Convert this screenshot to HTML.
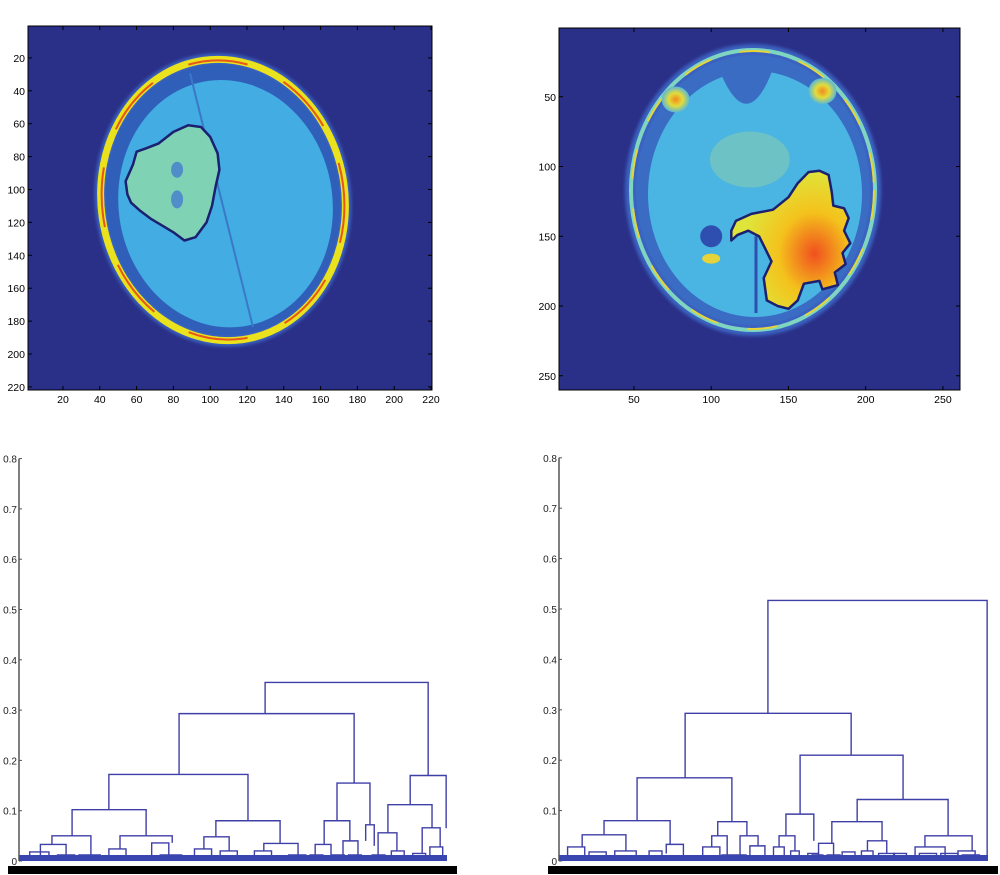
<!DOCTYPE html>
<html><head><meta charset="utf-8"><style>
html,body{margin:0;padding:0;background:#fff;}
svg{display:block;font-family:"Liberation Sans",sans-serif;}
</style></head><body>
<svg id="fig" width="1000" height="875" viewBox="0 0 1000 875" xmlns="http://www.w3.org/2000/svg">
<defs>
<radialGradient id="tumorR" cx="0.7" cy="0.6" r="0.6"><stop offset="0" stop-color="#f0501e"/><stop offset="0.5" stop-color="#f4c21c"/><stop offset="1" stop-color="#dfe43a"/></radialGradient>
<radialGradient id="eyeG" cx="0.5" cy="0.5" r="0.5"><stop offset="0" stop-color="#f08a20"/><stop offset="0.5" stop-color="#e2dc3a"/><stop offset="1" stop-color="#58b8d8"/></radialGradient>
<filter id="blur1"><feGaussianBlur stdDeviation="1.5"/></filter>
</defs>
<g id="mri-left"></g>
<g id="mri-right"></g>
<g id="dendro-left"></g>
<g id="dendro-right"></g>
</svg>
<script>
// ---------- data ----------
const leftXTicks = [20,40,60,80,100,120,140,160,180,200,220];
const leftYTicks = [20,40,60,80,100,120,140,160,180,200,220];
const rightXTicks = [50,100,150,200,250];
const rightYTicks = [50,100,150,200,250];
const dendroYTicks = [0,0.1,0.2,0.3,0.4,0.5,0.6,0.7,0.8];
const dendroTickLabels = ["0","0.1","0.2","0.3","0.4","0.5","0.6","0.7","0.8"];
// tumor outlines (image data coords)
const leftTumorX = [55,54,58,60,65,72,80,88,95,100,104,105,103,101,98,92,86,80,74,68,62,57];
const leftTumorY = [103,95,85,77,75,72,65,61,62,68,78,88,98,110,120,129,131,126,122,118,113,108];
const rightTumorX = [113,116,126,140,150,156,163,170,176,178,179,186,189,186,190,185,187,180,182,172,170,160,156,150,143,136,134,139,131,124,117,113];
const rightTumorY = [146,139,134,131,122,112,104,103,106,118,128,130,137,146,155,162,170,176,185,188,182,184,196,202,200,196,180,168,150,146,149,153];
// dendrogram links: [xLeft, xRight, height, leftChildHeight, rightChildHeight]  (x in leaf-order units 0..100)
const leftLinks = [
 [57.5,95.6,0.355,0.293,0.170],[37.4,78.3,0.293,0.172,0.155],[21.0,53.5,0.172,0.102,0.080],
 [12.4,29.7,0.102,0.050,0.050],[46.0,61.0,0.080,0.048,0.035],[74.3,82.0,0.155,0.080,0.072],
 [71.3,77.3,0.080,0.033,0.040],[91.4,99.8,0.170,0.112,0.065],[86.2,96.5,0.112,0.056,0.066],
 [7.7,16.8,0.050,0.033,0.010],[23.6,35.8,0.050,0.024,0.036],[43.2,49.1,0.048,0.024,0.020],
 [57.2,65.2,0.035,0.020,0.012],[69.2,72.9,0.033,0.012,0.012],[75.7,79.2,0.040,0.012,0.012],
 [83.9,88.3,0.056,0.012,0.020],[94.2,98.4,0.066,0.015,0.028],[81.0,83.0,0.072,0.040,0.030]
];
const leftSmall = [[2.5,7,0.018],[5,11,0.033],[9,13,0.012],[14,19,0.012],[21,25,0.024],[26,30,0.010],[31,35,0.036],[33,38,0.012],
 [41,45,0.024],[47,51,0.020],[55,59,0.020],[63,67,0.012],[68,71,0.012],[73,76,0.012],[77,80,0.012],[82.5,85.5,0.012],[87,90,0.020],[92,95,0.015],[96,99,0.028]];
const rightLinks = [
 [48.7,99.8,0.517,0.293,0.0],[29.4,68.1,0.293,0.165,0.210],[18.2,40.3,0.165,0.080,0.078],
 [10.5,25.9,0.080,0.052,0.033],[5.4,15.6,0.052,0.028,0.020],[37.0,43.8,0.078,0.050,0.050],
 [56.2,80.2,0.210,0.093,0.122],[52.9,59.4,0.093,0.050,0.040],[69.5,90.7,0.122,0.078,0.050],
 [63.6,75.3,0.078,0.035,0.040],[85.3,96.3,0.050,0.028,0.020],
 [35.6,39.2,0.050,0.028,0.012],[42.2,46.4,0.050,0.012,0.030],[51.3,55.0,0.050,0.028,0.020],
 [60.5,64.0,0.035,0.012,0.012],[71.9,76.4,0.040,0.020,0.015],[25.0,29.0,0.033,0.015,0.012]
];
const rightSmall = [[2,6,0.028],[1,3,0.010],[7,11,0.018],[13,18,0.020],[21,24,0.020],[33.5,37.5,0.028],[38,40.5,0.012],
 [40.8,43.6,0.012],[44.5,48,0.030],[50,52.5,0.028],[54,56,0.020],[58,60.5,0.015],[59,61.5,0.012],[62.5,65.5,0.012],
 [66,69,0.018],[70.5,73.2,0.020],[74.5,78.2,0.015],[78,81,0.015],[84,88,0.015],[83,90,0.028],[89,93,0.015],[93,97,0.020],[94,98,0.012]];

const NS='http://www.w3.org/2000/svg';
function mk(parent, tag, attrs){const e=document.createElementNS(NS,tag);for(const k in attrs)e.setAttribute(k,attrs[k]);parent.appendChild(e);return e;}

// ---------- MRI panels ----------
function mriPanel(gid, ax, xTicks, yTicks, tumX, tumY, kind){
  const g=document.getElementById(gid);
  const sx=v=>ax.x0+v*ax.kx, sy=v=>ax.y0+v*ax.ky;
  const bg=mk(g,'rect',{x:ax.l,y:ax.t,width:ax.r-ax.l,height:ax.b-ax.t,fill:'#2a2f87'});
  
  
  const head=mk(g,'g',{transform:`rotate(${ax.rot} ${ax.cx} ${ax.cy})`});
  
  
  mk(head,'ellipse',{cx:ax.cx,cy:ax.cy,rx:ax.rx+6,ry:ax.ry+6,fill:'#3a62c0',filter:'url(#blur1)'});
  mk(head,'ellipse',{cx:ax.cx,cy:ax.cy,rx:ax.rx,ry:ax.ry,fill:'none',stroke:kind==='L'?'#e9e21c':'#7fd6c0',"stroke-width":kind==='L'?7:4});
  mk(head,'ellipse',{cx:ax.cx,cy:ax.cy,rx:ax.rx-1,ry:ax.ry-1,fill:'none',stroke:kind==='L'?'#e8561c':'#e6d43a',"stroke-width":kind==='L'?2:2,"stroke-dasharray":kind==='L'?'60 40':'30 30'});
  mk(head,'ellipse',{cx:ax.cx,cy:ax.cy,rx:ax.rx-5,ry:ax.ry-5,fill:kind==='L'?'#2f5fb8':'#3a6cc4'});
  mk(head,'ellipse',{cx:ax.cx+2,cy:ax.cy+4,rx:ax.rx-15,ry:ax.ry-17,fill:kind==='L'?'#43ace2':'#4ab4e2'});
  if(kind==='L'){
    mk(head,'line',{x1:ax.cx-15,y1:ax.cy-130,x2:ax.cx+12,y2:ax.cy+130,stroke:'#3a78c8','stroke-width':2});
  } else {
    mk(g,'path',{d:`M${sx(105)} ${sy(30)}Q${sx(123)} ${sy(80)} ${sx(140)} ${sy(30)}Z`,fill:'#3a6cc4'});
    mk(g,'ellipse',{cx:sx(77),cy:sy(52),rx:14,ry:13,fill:'url(#eyeG)'});
    mk(g,'ellipse',{cx:sx(172),cy:sy(46),rx:14,ry:13,fill:'url(#eyeG)'});
    mk(g,'ellipse',{cx:sx(125),cy:sy(95),rx:40,ry:28,fill:'#8ecfa8',opacity:0.5});
    mk(g,'circle',{cx:sx(100),cy:sy(150),r:11,fill:'#2f4fb0'});
    mk(g,'ellipse',{cx:sx(100),cy:sy(166),rx:9,ry:5,fill:'#e6d43a'});
    mk(g,'line',{x1:sx(129),y1:sy(150),x2:sx(129),y2:sy(205),stroke:'#2f4fb0','stroke-width':3});
  }
  let d='';
  for(let i=0;i<tumX.length;i++) d+=(i?'L':'M')+sx(tumX[i]).toFixed(1)+' '+sy(tumY[i]).toFixed(1);
  const tum=mk(g,'path',{d:d+'Z',fill:kind==='L'?'#7fd3b4':'url(#tumorR)',stroke:'#1c2070','stroke-width':2.5,'stroke-linejoin':'round'});
  
  
  if(kind==='L'){mk(g,'ellipse',{cx:sx(82),cy:sy(88),rx:6,ry:8,fill:'#4f8ec8'});mk(g,'ellipse',{cx:sx(82),cy:sy(106),rx:6,ry:9,fill:'#4f8ec8'});}
  const box=mk(g,'rect',{x:ax.l,y:ax.t,width:ax.r-ax.l,height:ax.b-ax.t,fill:'none',stroke:'#000','stroke-width':1});
  
  
  xTicks.forEach(v=>{const x=sx(v);
    mk(g,'line',{x1:x,y1:ax.b,x2:x,y2:ax.b-4,stroke:'#000'});mk(g,'line',{x1:x,y1:ax.t,x2:x,y2:ax.t+4,stroke:'#000'});
    const t=mk(g,'text',{x:x,y:ax.b+13,'font-size':10.5,'text-anchor':'middle',fill:'#000'});t.textContent=v;
    
    });
  yTicks.forEach(v=>{const y=sy(v);
    mk(g,'line',{x1:ax.l,y1:y,x2:ax.l+4,y2:y,stroke:'#000'});mk(g,'line',{x1:ax.r,y1:y,x2:ax.r-4,y2:y,stroke:'#000'});
    const t=mk(g,'text',{x:ax.l-3,y:y+4,'font-size':10.5,'text-anchor':'end',fill:'#000'});t.textContent=v;
    
    });
}
mriPanel('mri-left',{l:28,r:432,t:26,b:390,x0:26.2,kx:1.84,y0:25,ky:1.645,cx:223,cy:200,rx:122,ry:141,rot:-8},leftXTicks,leftYTicks,leftTumorX,leftTumorY,'L');
mriPanel('mri-right',{l:559,r:960,t:28,b:390,x0:556.7,kx:1.545,y0:27,ky:1.395,cx:753,cy:190,rx:122,ry:140,rot:0},rightXTicks,rightYTicks,rightTumorX,rightTumorY,'R');

// ---------- dendrograms ----------
function dendro(gid, ax, links, small){
  const g=document.getElementById(gid);
  const X=v=>ax.l+v*(ax.r-ax.l)/100, Y=v=>ax.base-v*ax.ky;
  const col='#3f3fa8';
  const ya=mk(g,'line',{x1:ax.l,y1:Y(0),x2:ax.l,y2:Y(0.8),stroke:'#555','stroke-width':1.5});
  
  
  dendroYTicks.forEach((v,i)=>{
    mk(g,'line',{x1:ax.l,y1:Y(v),x2:ax.l+3,y2:Y(v),stroke:'#555'});
    const t=mk(g,'text',{x:ax.l-2,y:Y(v)+4,'font-size':10,'text-anchor':'end',fill:'#222'});t.textContent=dendroTickLabels[i];
    
    
  });
  const all=links.concat(small.map(s=>[s[0],s[1],s[2],0,0]));
  all.forEach(L=>{
    const p=mk(g,'path',{d:`M${X(L[0])} ${Y(L[3])}V${Y(L[2])}H${X(L[1])}V${Y(L[4])}`,fill:'none',stroke:col,'stroke-width':1.4});
    
    
  });
  const band=mk(g,'rect',{x:ax.l,y:Y(0)-6,width:ax.r-ax.l,height:6,fill:'#3a46b0'});
  
  
  const lab=mk(g,'rect',{x:ax.l-11,y:Y(0)+5,width:ax.r-ax.l+21,height:8,fill:'#000'});
  
  
}
dendro('dendro-left',{l:19,r:447,base:861,ky:503},leftLinks,leftSmall);
dendro('dendro-right',{l:559,r:988,base:861,ky:504},rightLinks,rightSmall);
</script>
</body></html>
